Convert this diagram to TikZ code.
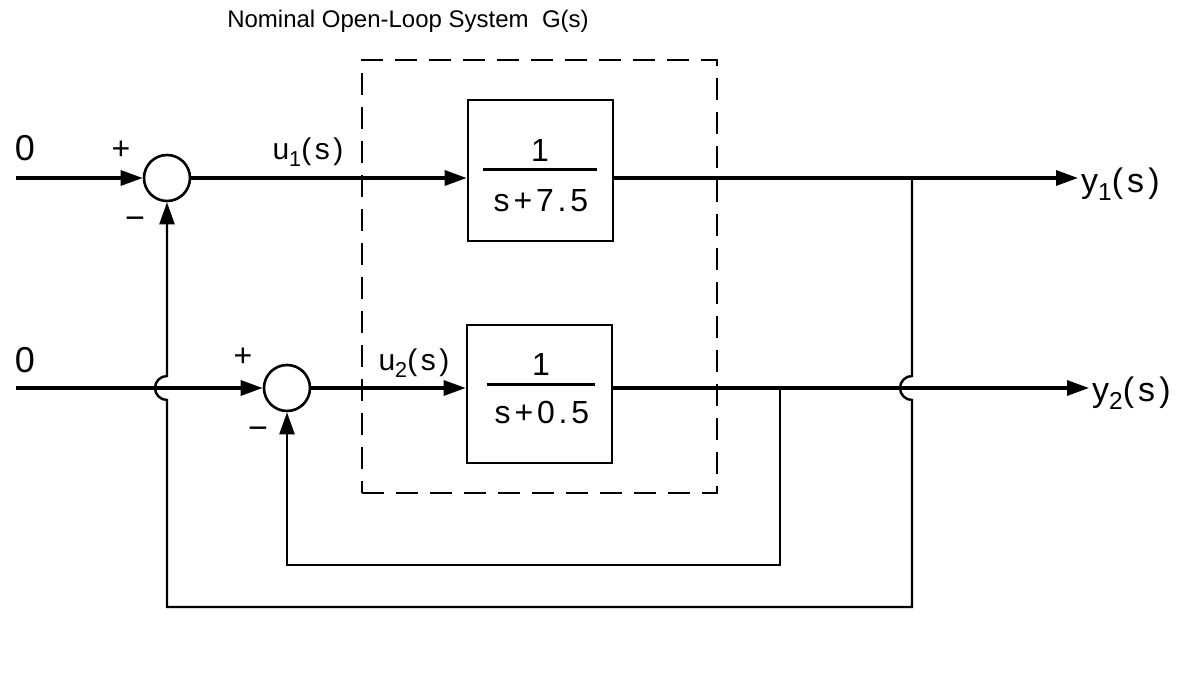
\documentclass[tikz,border=0pt]{standalone}
\usepackage{fontspec}
\setmainfont{Liberation Sans}
\newfontfamily\widefont[LetterSpace=12]{Liberation Sans}
\usetikzlibrary{arrows.meta,calc}
\newcommand{\subx}[1]{\raisebox{-0.45ex}{\scalebox{0.72}{#1}}}
\tikzset{
  sig/.style={line width=3.2pt},
  fb/.style={line width=2.4pt},
  arr/.style={-{Triangle[length=22pt,width=15pt]}},
  blockbox/.style={draw,line width=2.6pt,minimum width=145pt,minimum height=140pt,inner sep=0pt},
  sumnode/.style={draw,circle,line width=2.6pt,minimum size=46pt,inner sep=0pt},
  lab/.style={inner sep=0pt,anchor=center},
  fracbar/.style={line width=3pt},
  gbox/.style={draw,line width=2.4pt,dash pattern=on 22pt off 12pt}
}
\begin{document}
\begin{tikzpicture}[x=1pt,y=-1pt]
\useasboundingbox (0,0) rectangle (1187,676);
% title
\node[lab] (title) at (408,21) {\fontsize{24}{28}\selectfont Nominal Open-Loop System\ \ G(s)};
% dashed system box
\node[gbox,minimum width=355pt,minimum height=433pt,inner sep=0pt] (gsys) at (539.5,276.5) {};
% summing junctions
\node[sumnode] (sum1) at (167,178) {};
\node[sumnode] (sum2) at (287,388) {};
% blocks
\node[blockbox,minimum height=141pt] (blk1) at (540.5,170.5) {};
\node[blockbox,minimum height=138pt] (blk2) at (539.5,394) {};
\node[lab] (num1) at (540,150) {\fontsize{32}{34}\selectfont 1};
\node[lab] (den1) at (541,201) {\fontsize{32}{34}\selectfont\widefont s+7.5};
\draw[fracbar] (483,170) -- (597,170);
\node[lab] (num2) at (541,364) {\fontsize{32}{34}\selectfont 1};
\node[lab] (den2) at (542,412) {\fontsize{32}{34}\selectfont\widefont s+0.5};
\draw[fracbar] (487,385) -- (595,385);
% coordinates
\coordinate (in1) at (16,178);
\coordinate (in2) at (16,388);
\coordinate (out1) at (1078,178);
\coordinate (out2) at (1089,388);
\coordinate (j1) at (912,178);
\coordinate (j2) at (780,388);
\coordinate (b1) at (912,607);
\coordinate (b0) at (167,607);
\coordinate (c2) at (780,565);
\coordinate (c0) at (287,565);
% forward paths
\draw[sig,arr] (in1) -- (sum1.west);
\draw[sig,arr] (sum1.east) -- (blk1.west |- sum1);
\draw[sig,arr] (blk1.east |- sum1) -- (out1);
\draw[sig,arr] (in2) -- (sum2.west);
\draw[sig,arr] (sum2.east) -- (blk2.west |- sum2);
\draw[sig,arr] (blk2.east |- sum2) -- (out2);
% inner feedback loop
\draw[fb,arr] (j2) -- (c2) -- (c0) -- (sum2.south);
% outer feedback loop with hops
\draw[fb,arr] (j1) -- ($(j1 |- sum2)+(0,-12)$)
  arc[start angle=90,end angle=270,radius=12pt]
  -- (b1) -- (b0) -- ($(b0 |- sum2)+(0,12)$)
  arc[start angle=270,end angle=90,radius=12pt]
  -- (sum1.south);
% labels
\node[lab] (zero1) at (25,148) {\fontsize{36}{40}\selectfont 0};
\node[lab] (zero2) at (25,360) {\fontsize{36}{40}\selectfont 0};
\node[lab] (p1) at (121,150) {\fontsize{32}{34}\selectfont +};
\node[lab] (m1) at (135,223) {\fontsize{34}{36}\selectfont −};
\node[lab] (p2) at (243,357) {\fontsize{32}{34}\selectfont +};
\node[lab] (m2) at (258,433) {\fontsize{34}{36}\selectfont −};
\node[lab] (u1) at (308,152) {\fontsize{30}{34}\selectfont\widefont u\subx{1}(s)};
\node[lab] (u2) at (414,363) {\fontsize{30}{34}\selectfont\widefont u\subx{2}(s)};
\node[lab,anchor=west] (y1) at (1081,184) {\fontsize{34}{38}\selectfont\widefont y\subx{1}(s)};
\node[lab,anchor=west] (y2) at (1092,393) {\fontsize{34}{38}\selectfont\widefont y\subx{2}(s)};
\end{tikzpicture}
\end{document}
